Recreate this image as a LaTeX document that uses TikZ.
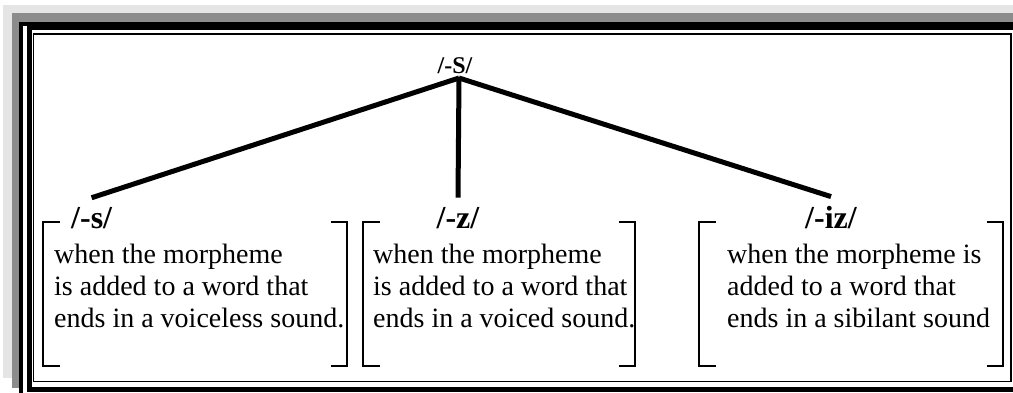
\documentclass[tikz,border=0pt]{standalone}
\usepackage{fontspec}
\setmainfont{Liberation Serif}
\usetikzlibrary{positioning,calc}

\begin{document}
\begin{tikzpicture}[
  x=1pt, y=-1pt,
  morph/.style={font=\fontsize{32}{36}\selectfont\bfseries, inner sep=0pt},
  gloss/.style={font=\fontsize{28}{32}\selectfont, align=left,
    inner sep=0pt, anchor=north west},
  branch/.style={line width=5pt},
  brk/.style={line width=1.6pt}
]
\useasboundingbox (0,0) rectangle (1013,392);
% Frame: shaded edge, then three rules
\fill[black!10] (3,5) rectangle (1013,378);
\fill[black!45] (12,13) rectangle (1013,388);
\fill[white] (19,22) rectangle (1013,392);
\draw[line width=4pt] (21,24) rectangle (1030,400);
\draw[line width=5pt] (29,27) rectangle (1030,389);
\draw[line width=1.8pt] (33.5,34) rectangle (1011,381.5);

% Top: the plural morpheme and its three forms
\node[font=\fontsize{24}{28}\selectfont\bfseries, inner sep=0pt, anchor=base]
  (plural) at (455,73) {/-S/};
\coordinate (apex) at (459,78);

\node[morph, anchor=base west] (voiceless) at (71,228) {/-s/};
\node[morph, anchor=base] (voiced) at (458,228) {/-z/};
\node[morph, anchor=base] (sibilant) at (831,228) {/-iz/};

\draw[branch] (apex) -- ([yshift=9pt]voiceless.north);
\draw[branch] (apex) -- ([yshift=9pt]voiced.north);
\draw[branch] (apex) -- ([yshift=9pt]sibilant.north);

% Bottom: bracketed conditions
\foreach \l/\r in {43/347, 363/635, 699/1003} {
  \draw[brk] (\l+17,222) -- (\l,222) -- (\l,366) -- (\l+17,366);
  \draw[brk] (\r-16,222) -- (\r,222) -- (\r,366) -- (\r-16,366);
}
\node[gloss] (voicelesstext) at (54,244)
  {when the morpheme\\is added to a word that\\ends in a voiceless sound.};
\node[gloss] (voicedtext) at (373,244)
  {when the morpheme\\is added to a word that\\ends in a voiced sound.};
\node[gloss] (sibilanttext) at (727,244)
  {when the morpheme is\\added to a word that\\ends in a sibilant sound};
\end{tikzpicture}
\end{document}
